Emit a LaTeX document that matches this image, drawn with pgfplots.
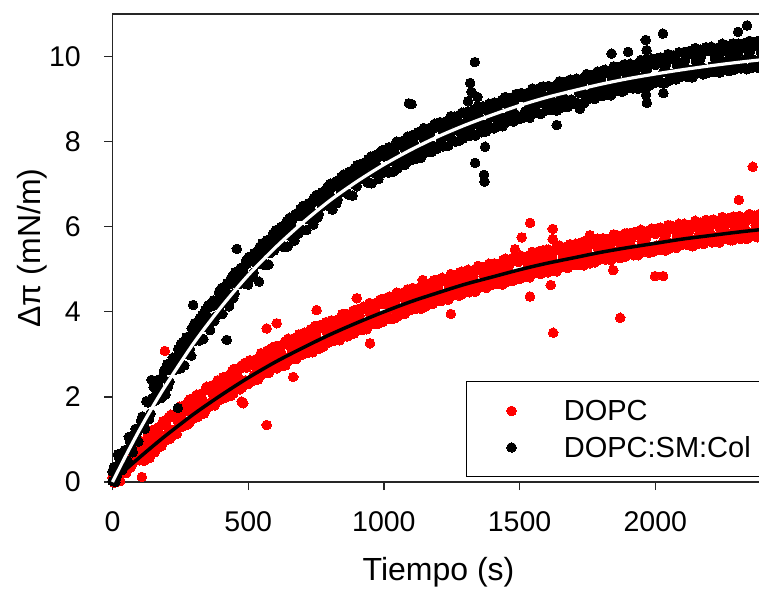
\documentclass[border=0pt]{standalone}
\usepackage{fontspec}
\setmainfont{Liberation Sans}
\usepackage{pgfplots}
\pgfplotsset{compat=1.18}
\begin{document}
\begin{tikzpicture}
\begin{axis}[
  scale only axis, width=660pt, height=468pt,
  xmin=0, xmax=2432, ymin=0, ymax=11,
  clip=false, clip marker paths=true,
  axis x line*=bottom, axis y line*=left,
  axis line style={-, line width=1.3pt, black!85},
  xtick={0,500,1000,1500,2000}, ytick={0,2,4,6,8,10},
  tick align=outside, major tick length=8pt,
  tick style={line width=1.3pt, black!85},
  /pgf/number format/assume math mode=true,
  /pgf/number format/1000 sep={},
  ticklabel style={font=\fontsize{28.5}{30}\selectfont, inner sep=0pt},
  xticklabel style={anchor=north, yshift=-21.5pt},
  yticklabel style={anchor=east, xshift=-23.5pt},
  xlabel={Tiempo (s)}, ylabel={Δπ (mN/m)},
  label style={font=\fontsize{32}{36}\selectfont},
  xlabel style={at={(axis description cs:0.494,-0.2115)}, anchor=base},
  ylabel style={at={(axis description cs:-0.1091,0.5)}, anchor=base},
  legend image code/.code={\draw[#1] plot coordinates {(0pt,0pt)};},
  legend cell align=left,
  legend style={draw=none, fill=none, inner sep=0pt, outer sep=0pt,
    at={(axis description cs:0.5973,0.1752)}, anchor=north west,
    font=\fontsize{29}{31}\selectfont,
    /tikz/row sep=14.4pt, /tikz/column sep=47.5pt,
    nodes={inner sep=0pt}},
]
\addplot[only marks, mark=*, mark size=4.8pt, mark options={draw=red, fill=red, line width=0pt}] coordinates {
(0,0.10)(10,-0.01)(20,0.28)(30,0.19)(40,0.33)(50,0.21)(60,0.50)(70,0.39)(80,0.54)(90,0.56)
(5,-0.01)(15,0.22)(25,0.05)(35,0.28)(45,0.26)(55,0.50)(65,0.33)(75,0.56)(85,0.55)(95,0.65)(108,0.12)(28,0.02)
(100,0.51)(110,0.73)(120,0.71)(130,0.96)(140,0.68)(150,1.21)(160,0.95)(170,1.15)(180,0.84)(190,1.37)
(105,0.82)(115,0.72)(125,0.86)(135,0.71)(145,1.11)(155,0.70)(165,1.08)(175,1.00)(185,1.41)(195,1.00)
(200,1.32)(210,1.01)(220,1.53)(230,1.24)(240,1.45)(250,1.43)(260,1.68)(270,1.39)(280,1.91)(290,1.64)
(205,1.17)(215,1.58)(225,1.16)(235,1.55)(245,1.44)(255,1.58)(265,1.43)(275,1.82)(285,1.40)(295,1.77)
(300,1.54)(310,2.05)(320,1.78)(330,1.96)(340,1.64)(350,2.16)(360,1.86)(370,2.06)(380,2.02)(390,2.27)
(305,1.96)(315,1.53)(325,1.90)(335,1.80)(345,2.20)(355,1.78)(365,2.16)(375,2.04)(385,2.16)(395,2.01)
(400,2.19)(410,2.15)(420,2.39)(430,2.09)(440,2.60)(450,2.32)(460,2.50)(470,2.18)(480,2.69)(490,2.39)
(405,2.17)(415,2.29)(425,2.13)(435,2.51)(445,2.08)(455,2.44)(465,2.34)(475,2.74)(485,2.31)(495,2.69)
(500,2.30)(510,2.81)(520,2.50)(530,2.70)(540,2.65)(550,2.89)(560,2.58)(570,3.09)(580,2.80)(590,2.98)
(505,2.86)(515,2.43)(525,2.80)(535,2.68)(545,2.79)(555,2.63)(565,3.00)(575,2.57)(585,2.92)(595,2.82)
(600,3.19)(610,2.90)(620,3.07)(630,2.74)(640,3.24)(650,2.94)(660,3.13)(670,3.08)(680,3.31)(690,3.00)
(605,2.67)(615,3.02)(625,2.91)(635,3.30)(645,2.86)(655,3.24)(665,3.11)(675,3.22)(685,3.05)(695,3.42)
(700,3.17)(710,3.40)(720,3.09)(730,3.59)(740,3.30)(750,3.47)(760,3.13)(770,3.63)(780,3.32)(790,3.51)
(705,3.31)(715,3.14)(725,3.51)(735,3.07)(745,3.42)(755,3.31)(765,3.69)(775,3.25)(785,3.62)(795,3.49)
(800,3.72)(810,3.41)(820,3.59)(830,3.54)(840,3.77)(850,3.46)(860,3.95)(870,3.66)(880,3.83)(890,3.49)
(805,3.33)(815,3.70)(825,3.56)(835,3.67)(845,3.50)(855,3.87)(865,3.42)(875,3.77)(885,3.66)(895,4.04)
(900,3.74)(910,3.91)(920,3.57)(930,4.07)(940,3.75)(950,3.94)(960,3.88)(970,4.11)(980,3.79)(990,4.29)
(905,3.85)(915,3.74)(925,4.12)(935,3.68)(945,4.04)(955,3.91)(965,4.01)(975,3.84)(985,4.20)(995,3.76)
(1000,4.18)(1010,3.86)(1020,4.36)(1030,4.06)(1040,4.23)(1050,3.89)(1060,4.38)(1070,4.07)(1080,4.25)(1090,4.20)
(1005,3.91)(1015,4.27)(1025,3.83)(1035,4.17)(1045,4.06)(1055,4.44)(1065,3.99)(1075,4.36)(1085,4.22)(1095,4.33)
(1100,4.14)(1110,4.32)(1120,4.26)(1130,4.49)(1140,4.17)(1150,4.66)(1160,4.36)(1170,4.52)(1180,4.19)(1190,4.68)
(1105,4.43)(1115,4.29)(1125,4.39)(1135,4.22)(1145,4.58)(1155,4.13)(1165,4.47)(1175,4.35)(1185,4.74)(1195,4.29)
(1200,4.59)(1210,4.25)(1220,4.74)(1230,4.42)(1240,4.60)(1250,4.54)(1260,4.76)(1270,4.44)(1280,4.93)(1290,4.63)
(1205,4.42)(1215,4.80)(1225,4.35)(1235,4.71)(1245,4.57)(1255,4.67)(1265,4.49)(1275,4.85)(1285,4.40)(1295,4.74)
(1300,4.50)(1310,4.99)(1320,4.68)(1330,4.84)(1340,4.50)(1350,4.99)(1360,4.66)(1370,4.84)(1380,4.78)(1390,4.99)
(1305,4.91)(1315,4.46)(1325,4.79)(1335,4.67)(1345,5.05)(1355,4.60)(1365,4.95)(1375,4.81)(1385,4.91)(1395,4.72)
(1400,4.89)(1410,4.83)(1420,5.04)(1430,4.72)(1440,5.21)(1450,4.91)(1460,5.06)(1470,4.72)(1480,5.21)(1490,4.88)
(1405,4.86)(1415,4.96)(1425,4.77)(1435,5.13)(1445,4.68)(1455,5.02)(1465,4.89)(1475,5.27)(1485,4.82)(1495,5.17)
(1500,4.77)(1510,5.26)(1520,4.93)(1530,5.11)(1540,5.04)(1550,5.26)(1560,4.93)(1570,5.42)(1580,5.11)(1590,5.27)
(1505,5.32)(1515,4.87)(1525,5.22)(1535,5.08)(1545,5.17)(1555,4.99)(1565,5.34)(1575,4.89)(1585,5.22)(1595,5.10)
(1600,5.46)(1610,5.15)(1620,5.31)(1630,4.96)(1640,5.45)(1650,5.12)(1660,5.29)(1670,5.23)(1680,5.44)(1690,5.12)
(1605,4.93)(1615,5.26)(1625,5.14)(1635,5.51)(1645,5.06)(1655,5.41)(1665,5.26)(1675,5.36)(1685,5.17)(1695,5.53)
(1700,5.27)(1710,5.48)(1720,5.16)(1730,5.64)(1740,5.33)(1750,5.49)(1760,5.14)(1770,5.62)(1780,5.29)(1790,5.47)
(1705,5.40)(1715,5.21)(1725,5.57)(1735,5.11)(1745,5.44)(1755,5.32)(1765,5.69)(1775,5.23)(1785,5.58)(1795,5.44)
(1800,5.66)(1810,5.33)(1820,5.50)(1830,5.44)(1840,5.65)(1850,5.32)(1860,5.80)(1870,5.49)(1880,5.65)(1890,5.30)
(1805,5.27)(1815,5.62)(1825,5.47)(1835,5.57)(1845,5.38)(1855,5.73)(1865,5.27)(1875,5.60)(1885,5.48)(1895,5.85)
(1900,5.53)(1910,5.68)(1920,5.33)(1930,5.81)(1940,5.48)(1950,5.66)(1960,5.59)(1970,5.80)(1980,5.47)(1990,5.95)
(1905,5.64)(1915,5.51)(1925,5.88)(1935,5.42)(1945,5.77)(1955,5.63)(1965,5.72)(1975,5.53)(1985,5.88)(1995,5.42)
(2000,5.83)(2010,5.50)(2020,5.98)(2030,5.67)(2040,5.82)(2050,5.48)(2060,5.96)(2070,5.63)(2080,5.80)(2090,5.73)
(2005,5.56)(2015,5.91)(2025,5.45)(2035,5.78)(2045,5.65)(2055,6.03)(2065,5.57)(2075,5.92)(2085,5.77)(2095,5.86)
(2100,5.66)(2110,5.83)(2120,5.76)(2130,5.97)(2140,5.64)(2150,6.12)(2160,5.80)(2170,5.95)(2180,5.60)(2190,6.08)
(2105,5.95)(2115,5.80)(2125,5.89)(2135,5.70)(2145,6.05)(2155,5.59)(2165,5.91)(2175,5.78)(2185,6.15)(2195,5.69)
(2200,5.98)(2210,5.63)(2220,6.11)(2230,5.77)(2240,5.94)(2250,5.87)(2260,6.08)(2270,5.75)(2280,6.22)(2290,5.91)
(2205,5.80)(2215,6.17)(2225,5.71)(2235,6.05)(2245,5.90)(2255,5.99)(2265,5.80)(2275,6.15)(2285,5.68)(2295,6.01)
(2300,5.77)(2310,6.25)(2320,5.93)(2330,6.08)(2340,5.73)(2350,6.21)(2360,5.87)(2370,6.04)(2380,5.97)(2390,6.17)
(2305,6.17)(2315,5.71)(2325,6.03)(2335,5.90)(2345,6.27)(2355,5.81)(2365,6.15)(2375,6.00)(2385,6.09)(2395,5.89)
(2400,6.06)(2410,5.99)(2420,6.19)(2430,5.86)(2405,6.02)(2415,6.11)(2425,5.91)
(107,0.95)(127,1.03)(147,1.22)(167,1.28)(187,1.43)(117,0.50)(137,0.57)(157,0.76)(177,0.83)(197,0.98)
(207,1.53)(227,1.59)(247,1.77)(267,1.81)(287,1.95)(217,1.07)(237,1.13)(257,1.30)(277,1.35)(297,1.49)
(307,2.03)(327,2.08)(347,2.24)(367,2.27)(387,2.39)(317,1.56)(337,1.61)(357,1.77)(377,1.80)(397,1.93)
(407,2.46)(427,2.50)(447,2.66)(467,2.68)(487,2.80)(417,1.99)(437,2.03)(457,2.18)(477,2.21)(497,2.33)
(507,2.85)(527,2.88)(547,3.03)(567,3.04)(587,3.15)(517,2.38)(537,2.41)(557,2.55)(577,2.57)(597,2.68)
(607,3.20)(627,3.22)(647,3.37)(667,3.37)(687,3.47)(617,2.72)(637,2.74)(657,2.88)(677,2.89)(697,2.99)
(707,3.51)(727,3.53)(747,3.67)(767,3.66)(787,3.76)(717,3.03)(737,3.05)(757,3.18)(777,3.18)(797,3.28)
(807,3.80)(827,3.81)(847,3.95)(867,3.94)(887,4.03)(817,3.32)(837,3.33)(857,3.45)(877,3.46)(897,3.55)
(907,4.07)(927,4.08)(947,4.21)(967,4.20)(987,4.29)(917,3.58)(937,3.59)(957,3.71)(977,3.71)(997,3.80)
(1007,4.32)(1027,4.32)(1047,4.45)(1067,4.44)(1087,4.53)(1017,3.83)(1037,3.84)(1057,3.96)(1077,3.95)(1097,4.04)
(1107,4.56)(1127,4.56)(1147,4.68)(1167,4.67)(1187,4.75)(1117,4.07)(1137,4.07)(1157,4.19)(1177,4.18)(1197,4.26)
(1207,4.77)(1227,4.77)(1247,4.89)(1267,4.87)(1287,4.95)(1217,4.28)(1237,4.28)(1257,4.39)(1277,4.38)(1297,4.46)
(1307,4.97)(1327,4.97)(1347,5.08)(1367,5.05)(1387,5.13)(1317,4.48)(1337,4.47)(1357,4.58)(1377,4.56)(1397,4.63)
(1407,5.14)(1427,5.14)(1447,5.25)(1467,5.22)(1487,5.30)(1417,4.65)(1437,4.64)(1457,4.75)(1477,4.73)(1497,4.80)
(1507,5.31)(1527,5.30)(1547,5.41)(1567,5.38)(1587,5.45)(1517,4.82)(1537,4.81)(1557,4.91)(1577,4.89)(1597,4.96)
(1607,5.46)(1627,5.45)(1647,5.56)(1667,5.52)(1687,5.59)(1617,4.96)(1637,4.95)(1657,5.05)(1677,5.03)(1697,5.10)
(1707,5.60)(1727,5.59)(1747,5.69)(1767,5.66)(1787,5.72)(1717,5.10)(1737,5.09)(1757,5.18)(1777,5.16)(1797,5.23)
(1807,5.73)(1827,5.71)(1847,5.82)(1867,5.78)(1887,5.84)(1817,5.23)(1837,5.21)(1857,5.31)(1877,5.28)(1897,5.35)
(1907,5.85)(1927,5.83)(1947,5.93)(1967,5.89)(1987,5.96)(1917,5.35)(1937,5.33)(1957,5.42)(1977,5.39)(1997,5.46)
(2007,5.96)(2027,5.94)(2047,6.04)(2067,6.00)(2087,6.07)(2017,5.46)(2037,5.44)(2057,5.53)(2077,5.50)(2097,5.57)
(2107,6.07)(2127,6.04)(2147,6.14)(2167,6.10)(2187,6.16)(2117,5.57)(2137,5.54)(2157,5.63)(2177,5.60)(2197,5.66)
(2207,6.16)(2227,6.13)(2247,6.23)(2267,6.18)(2287,6.24)(2217,5.65)(2237,5.63)(2257,5.72)(2277,5.68)(2297,5.74)
(2307,6.23)(2327,6.21)(2347,6.30)(2367,6.26)(2387,6.31)(2317,5.73)(2337,5.71)(2357,5.79)(2377,5.75)(2397,5.81)
(2407,6.30)(2427,6.28)(2417,5.78)
(193,3.08)(476,1.89)(482,1.85)(568,1.34)(568,3.61)(605,3.73)(666,2.47)(752,4.04)(900,4.32)(949,3.26)
(1078,4.47)(1143,4.75)(1182,4.68)(1247,3.95)(1483,5.47)(1508,5.75)(1538,4.36)(1539,6.09)(1615,4.63)
(1622,5.95)(1622,5.71)(1624,3.51)(1759,5.80)(1845,4.98)(1871,3.86)(1999,4.84)(2029,4.84)(2308,6.63)(2359,7.41)
};
\addlegendentry{DOPC}
\addplot[only marks, mark=*, mark size=4.8pt, mark options={draw=black, fill=black, line width=0pt}] coordinates {
(0,0.25)(10,0.00)(20,0.65)(30,0.41)(40,0.69)(50,0.42)(60,1.06)(70,0.81)(80,1.10)(90,1.15)
(0,0.02)(5,0.35)(15,0.12)(25,0.55)(35,0.28)(45,0.75)(55,0.50)(65,0.95)(75,0.70)(85,1.25)(95,0.95)
(100,1.27)(110,1.54)(120,1.25)(130,1.87)(140,1.61)(150,1.89)(160,1.92)(170,2.24)(180,1.97)(190,2.60)
(105,1.44)(115,1.39)(125,1.90)(135,1.48)(145,1.96)(155,1.90)(165,2.09)(175,1.99)(185,2.46)(195,2.05)
(152,2.23)(162,2.23)(172,2.41)(182,2.43)(192,2.64)
(200,2.63)(210,2.36)(220,2.62)(230,2.64)(240,2.94)(250,2.67)(260,3.29)(270,3.02)(280,3.28)(290,2.97)
(205,2.24)(215,2.71)(225,2.63)(235,2.81)(245,2.69)(255,3.16)(265,2.74)(275,3.19)(285,3.13)(295,3.62)
(202,2.77)(212,2.76)(222,2.92)(232,2.93)(242,3.13)(252,3.25)(262,3.24)(272,3.40)(282,3.41)(292,3.61)
(300,3.31)(310,3.60)(320,3.32)(330,3.92)(340,3.65)(350,3.89)(360,3.57)(370,4.18)(380,3.89)(390,4.15)
(305,3.47)(315,3.34)(325,3.80)(335,3.36)(345,3.81)(355,3.73)(365,4.21)(375,3.78)(385,4.23)(395,4.15)
(302,3.73)(312,3.70)(322,3.85)(332,3.85)(342,4.04)(352,4.15)(362,4.12)(372,4.27)(382,4.27)(392,4.46)
(400,4.51)(410,4.22)(420,4.46)(430,4.13)(440,4.72)(450,4.43)(460,4.67)(470,4.66)(480,4.94)(490,4.65)
(405,3.95)(415,4.38)(425,4.30)(435,4.77)(445,4.32)(455,4.77)(465,4.67)(475,4.82)(485,4.68)(495,5.13)
(402,4.56)(412,4.53)(422,4.67)(432,4.65)(442,4.84)(452,4.93)(462,4.89)(472,5.03)(482,5.02)(492,5.20)
(500,4.64)(510,5.22)(520,4.92)(530,5.15)(540,5.13)(550,5.41)(560,5.10)(570,5.68)(580,5.38)(590,5.61)
(505,5.27)(515,4.81)(525,5.25)(535,5.14)(545,5.28)(555,5.14)(565,5.57)(575,5.11)(585,5.53)(595,5.44)
(502,5.29)(512,5.25)(522,5.38)(532,5.35)(542,5.52)(552,5.61)(562,5.56)(572,5.69)(582,5.67)(592,5.84)
(600,5.59)(610,5.57)(620,5.83)(630,5.52)(640,6.10)(650,5.80)(660,6.01)(670,5.67)(680,6.25)(690,5.93)
(605,5.58)(615,5.72)(625,5.56)(635,5.99)(645,5.53)(655,5.95)(665,5.84)(675,6.30)(685,5.84)(695,6.26)
(602,5.92)(612,5.87)(622,6.00)(632,5.96)(642,6.13)(652,6.21)(662,6.15)(672,6.28)(682,6.25)(692,6.41)
(700,5.92)(710,6.49)(720,6.18)(730,6.40)(740,6.05)(750,6.62)(760,6.30)(770,6.52)(780,6.50)(790,6.76)
(705,6.39)(715,5.92)(725,6.33)(735,6.23)(745,6.68)(755,6.21)(765,6.63)(775,6.51)(785,6.65)(795,6.49)
(702,6.49)(712,6.43)(722,6.55)(732,6.52)(742,6.68)(752,6.75)(762,6.69)(772,6.81)(782,6.78)(792,6.94)
(800,6.76)(810,6.40)(820,6.97)(830,6.64)(840,6.86)(850,6.82)(860,7.07)(870,6.75)(880,7.31)(890,7.00)
(805,6.58)(815,7.02)(825,6.55)(835,6.96)(845,6.84)(855,6.96)(865,6.79)(875,7.21)(885,6.73)(895,7.14)
(802,7.01)(812,6.94)(822,7.06)(832,7.01)(842,7.16)(852,7.23)(862,7.16)(872,7.28)(882,7.23)(892,7.38)
(900,6.95)(910,7.16)(920,7.12)(930,7.37)(940,7.04)(950,7.60)(960,7.28)(970,7.48)(980,7.12)(990,7.68)
(905,7.27)(915,7.14)(925,7.26)(935,7.09)(945,7.50)(955,7.02)(965,7.42)(975,7.30)(985,7.74)(995,7.26)
(902,7.45)(912,7.38)(922,7.49)(932,7.44)(942,7.59)(952,7.65)(962,7.58)(972,7.69)(982,7.64)(992,7.79)
(1000,7.65)(1010,7.31)(1020,7.87)(1030,7.54)(1040,7.74)(1050,7.37)(1060,7.92)(1070,7.59)(1080,7.79)(1090,7.75)
(1005,7.37)(1015,7.77)(1025,7.29)(1035,7.68)(1045,7.56)(1055,7.99)(1065,7.50)(1075,7.91)(1085,7.77)(1095,7.89)
(1100,7.78)(1110,7.97)(1120,7.60)(1130,8.15)(1140,7.81)(1150,8.01)(1160,7.96)(1170,8.20)(1180,7.86)(1190,8.41)
(1105,7.92)(1115,7.79)(1125,8.22)(1135,7.73)(1145,8.13)(1155,7.99)(1165,8.10)(1175,7.92)(1185,8.32)(1195,7.83)
(1200,8.36)(1210,8.02)(1220,8.21)(1230,8.16)(1240,8.39)(1250,8.05)(1260,8.59)(1270,8.26)(1280,8.44)(1290,8.07)
(1205,7.93)(1215,8.33)(1225,8.18)(1235,8.29)(1245,8.10)(1255,8.50)(1265,8.00)(1275,8.39)(1285,8.25)(1295,8.68)
(1300,8.33)(1310,8.56)(1320,8.21)(1330,8.75)(1340,8.41)(1350,8.60)(1360,8.22)(1370,8.76)(1380,8.41)(1390,8.60)
(1305,8.46)(1315,8.27)(1325,8.66)(1335,8.16)(1345,8.54)(1355,8.41)(1365,8.83)(1375,8.33)(1385,8.72)(1395,8.57)
(1400,8.90)(1410,8.56)(1420,8.75)(1430,8.37)(1440,8.91)(1450,8.57)(1460,8.76)(1470,8.70)(1480,8.93)(1490,8.59)
(1405,8.31)(1415,8.69)(1425,8.56)(1435,8.98)(1445,8.48)(1455,8.88)(1465,8.73)(1475,8.83)(1485,8.64)(1495,9.04)
(1500,8.53)(1510,9.07)(1520,8.71)(1530,8.90)(1540,8.84)(1550,9.07)(1560,8.71)(1570,9.25)(1580,8.91)(1590,9.08)
(1505,9.14)(1515,8.64)(1525,9.02)(1535,8.87)(1545,8.97)(1555,8.78)(1565,9.16)(1575,8.66)(1585,9.04)(1595,8.89)
(1600,9.02)(1610,8.96)(1620,9.18)(1630,8.83)(1640,9.36)(1650,9.02)(1660,9.20)(1670,8.81)(1680,9.35)(1690,8.99)
(1605,8.99)(1615,9.09)(1625,8.89)(1635,9.28)(1645,8.77)(1655,9.15)(1665,9.01)(1675,9.42)(1685,8.92)(1695,9.30)
(1700,8.94)(1710,9.48)(1720,9.14)(1730,9.32)(1740,8.94)(1750,9.48)(1760,9.13)(1770,9.32)(1780,9.26)(1790,9.49)
(1705,9.39)(1715,8.89)(1725,9.27)(1735,9.13)(1745,9.55)(1755,9.05)(1765,9.44)(1775,9.29)(1785,9.39)(1795,9.20)
(1800,9.46)(1810,9.08)(1820,9.61)(1830,9.26)(1840,9.44)(1850,9.38)(1860,9.61)(1870,9.25)(1880,9.79)(1890,9.44)
(1805,9.27)(1815,9.69)(1825,9.18)(1835,9.57)(1845,9.41)(1855,9.51)(1865,9.32)(1875,9.70)(1885,9.20)(1895,9.57)
(1900,9.37)(1910,9.55)(1920,9.49)(1930,9.71)(1940,9.35)(1950,9.89)(1960,9.54)(1970,9.71)(1980,9.32)(1990,9.86)
(1905,9.68)(1915,9.52)(1925,9.62)(1935,9.42)(1945,9.80)(1955,9.30)(1965,9.67)(1975,9.52)(1985,9.93)(1995,9.43)
(2000,9.80)(2010,9.45)(2020,9.98)(2030,9.64)(2040,9.81)(2050,9.43)(2060,9.96)(2070,9.61)(2080,9.79)(2090,9.73)
(2005,9.51)(2015,9.90)(2025,9.39)(2035,9.77)(2045,9.62)(2055,10.04)(2065,9.53)(2075,9.92)(2085,9.76)(2095,9.86)
(2100,9.74)(2110,9.91)(2120,9.52)(2130,10.06)(2140,9.70)(2150,9.88)(2160,9.81)(2170,10.03)(2180,9.68)(2190,10.21)
(2105,9.87)(2115,9.72)(2125,10.13)(2135,9.63)(2145,10.01)(2155,9.85)(2165,9.94)(2175,9.74)(2185,10.13)(2195,9.62)
(2200,10.14)(2210,9.78)(2220,9.96)(2230,9.88)(2240,10.10)(2250,9.74)(2260,10.27)(2270,9.92)(2280,10.08)(2290,9.69)
(2205,9.70)(2215,10.08)(2225,9.92)(2235,10.00)(2245,9.80)(2255,10.18)(2265,9.67)(2275,10.04)(2285,9.88)(2295,10.29)
(2300,9.94)(2310,10.16)(2320,9.79)(2330,10.32)(2340,9.97)(2350,10.14)(2360,9.74)(2370,10.27)(2380,9.91)(2390,10.08)
(2305,10.06)(2315,9.86)(2325,10.23)(2335,9.72)(2345,10.09)(2355,9.94)(2365,10.34)(2375,9.83)(2385,10.21)(2395,10.04)
(2400,10.37)(2410,10.02)(2420,10.18)(2430,9.79)(2405,9.77)(2415,10.14)(2425,9.98)
(1007,7.82)(1027,7.85)(1047,8.00)(1067,8.01)(1087,8.12)(1017,7.27)(1037,7.30)(1057,7.43)(1077,7.45)(1097,7.56)
(1107,8.16)(1127,8.18)(1147,8.32)(1167,8.32)(1187,8.42)(1117,7.60)(1137,7.62)(1157,7.75)(1177,7.76)(1197,7.86)
(1207,8.46)(1227,8.47)(1247,8.60)(1267,8.59)(1287,8.68)(1217,7.89)(1237,7.90)(1257,8.02)(1277,8.02)(1297,8.11)
(1307,8.70)(1327,8.71)(1347,8.83)(1367,8.81)(1387,8.89)(1317,8.14)(1337,8.14)(1357,8.25)(1377,8.24)(1397,8.32)
(1407,8.92)(1427,8.92)(1447,9.05)(1467,9.03)(1487,9.12)(1417,8.35)(1437,8.36)(1457,8.47)(1477,8.47)(1497,8.55)
(1507,9.14)(1527,9.14)(1547,9.25)(1567,9.22)(1587,9.30)(1517,8.57)(1537,8.56)(1557,8.67)(1577,8.65)(1597,8.73)
(1607,9.31)(1627,9.30)(1647,9.42)(1667,9.39)(1687,9.46)(1617,8.74)(1637,8.73)(1657,8.83)(1677,8.81)(1697,8.89)
(1707,9.47)(1727,9.47)(1747,9.59)(1767,9.57)(1787,9.65)(1717,8.90)(1737,8.90)(1757,9.01)(1777,9.00)(1797,9.08)
(1807,9.67)(1827,9.66)(1847,9.77)(1867,9.75)(1887,9.82)(1817,9.10)(1837,9.09)(1857,9.19)(1877,9.17)(1897,9.25)
(1907,9.83)(1927,9.81)(1947,9.92)(1967,9.89)(1987,9.95)(1917,9.25)(1937,9.24)(1957,9.33)(1977,9.31)(1997,9.38)
(2007,9.96)(2027,9.95)(2047,10.06)(2067,10.03)(2087,10.10)(2017,9.39)(2037,9.38)(2057,9.48)(2077,9.46)(2097,9.53)
(2107,10.11)(2127,10.09)(2147,10.20)(2167,10.16)(2187,10.22)(2117,9.53)(2137,9.51)(2157,9.61)(2177,9.58)(2197,9.65)
(2207,10.23)(2227,10.20)(2247,10.30)(2267,10.25)(2287,10.31)(2217,9.64)(2237,9.62)(2257,9.71)(2277,9.67)(2297,9.73)
(2307,10.30)(2327,10.28)(2347,10.37)(2367,10.33)(2387,10.38)(2317,9.72)(2337,9.70)(2357,9.78)(2377,9.74)(2397,9.80)
(2407,10.37)(2427,10.34)(2417,9.75)
(144,2.40)(241,1.74)(297,4.16)(421,3.34)(458,5.48)(540,4.71)(1092,8.90)(1102,8.88)(1310,8.95)(1318,9.38)
(1323,9.17)(1335,9.87)(1345,9.05)(1336,7.50)(1369,7.22)(1371,7.06)(1373,7.88)(1637,8.39)(1722,8.77)
(1839,10.07)(1900,10.11)(1965,10.39)(1968,10.15)(1970,9.95)(1966,9.10)(1969,8.91)(1972,9.30)(2028,10.54)
(2030,9.14)(2305,10.58)(2338,10.73)
};
\addlegendentry{DOPC:SM:Col}
\addplot[black, line width=3.5pt, smooth, forget plot] coordinates {
(0,0)(50,0.30)(100,0.58)(150,0.85)(200,1.11)(300,1.60)(400,2.04)(500,2.45)(600,2.82)(700,3.15)
(800,3.46)(900,3.74)(1000,4.00)(1100,4.24)(1200,4.45)(1300,4.65)(1400,4.82)(1500,4.99)(1600,5.14)
(1700,5.27)(1800,5.40)(1900,5.51)(2000,5.61)(2100,5.71)(2200,5.79)(2300,5.87)(2400,5.94)(2450,5.97)
};
\addplot[white, line width=3.2pt, smooth, forget plot] coordinates {
(0,0)(50,0.63)(100,1.23)(150,1.79)(200,2.31)(300,3.27)(400,4.11)(500,4.86)(600,5.51)(700,6.09)
(800,6.61)(900,7.06)(1000,7.46)(1100,7.81)(1200,8.12)(1300,8.39)(1400,8.63)(1500,8.85)(1600,9.04)
(1700,9.20)(1800,9.35)(1900,9.48)(2000,9.59)(2100,9.69)(2200,9.78)(2300,9.86)(2400,9.93)(2450,9.96)
};
\draw[line width=1.3pt, black!85] (rel axis cs:0,1) -- (rel axis cs:1,1);
\draw[line width=1.2pt, black] (axis description cs:0.5364,0.0113) rectangle (axis description cs:1.1,0.2143);
\end{axis}
\pgfresetboundingbox
\useasboundingbox (-112.5pt,-107pt) rectangle (646.5pt,482pt);
\end{tikzpicture}
\end{document}
